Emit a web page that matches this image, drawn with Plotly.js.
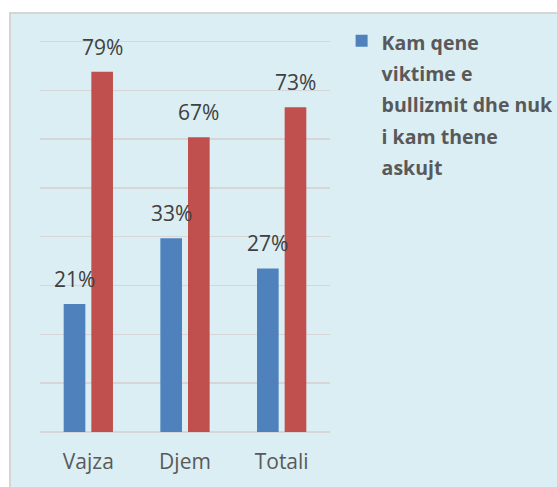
<!DOCTYPE html>
<html>
<head>
<meta charset="utf-8">
<script src="https://cdn.plot.ly/plotly-3.0.1.min.js"></script>
<style>
  html, body { margin: 0; padding: 0; background: #ffffff; width: 557px; height: 487px; overflow: hidden; }
  #wrap { position: absolute; left: 9px; top: 12px; width: 548px; height: 475px;
          background: #DBEEF4; border-left: 2px solid #d5d5d5; border-top: 2px solid #d5d5d5; box-sizing: border-box; }
  #chart { position: absolute; left: 0; top: 0; width: 546px; height: 473px; }
</style>
</head>
<body>
<div id="wrap"><div id="chart"></div></div>
<script>
// Data
const categories = ['Vajza', 'Djem', 'Totali'];
const blueValues = [0.262, 0.397, 0.335];   // bar heights as drawn
const redValues  = [0.738, 0.604, 0.665];   // bar heights as drawn
const blueLabels = ['21%', '33%', '27%'];   // printed data labels
const redLabels  = ['79%', '67%', '73%'];   // printed data labels
const legendLines = ['Kam qene', 'viktime e', 'bullizmit dhe nuk', 'i kam thene', 'askujt'];

const FONT = '"Open Sans", "Noto Sans", sans-serif';
const BLUE = '#4F81BD';
const RED = '#C0504D';

const legendName = legendLines
  .map(l => '<span style="font-size:19.5px"><b>' + l + '</b></span>')
  .join('<br>');

const traces = [
  { type: 'bar', x: categories, y: blueValues, name: legendName,
    marker: { color: BLUE }, hoverinfo: 'none', showlegend: true },
  { type: 'bar', x: categories, y: redValues, name: 'series2',
    marker: { color: RED }, hoverinfo: 'none', showlegend: false }
];

const SHIFT = 13.85;
const annotations = [];
categories.forEach((c, i) => {
  annotations.push({ x: c, y: blueValues[i], xref: 'x', yref: 'y', text: blueLabels[i],
    showarrow: false, xshift: -SHIFT, yshift: 25, font: { family: FONT, size: 21, color: '#404040' } });
  annotations.push({ x: c, y: redValues[i], xref: 'x', yref: 'y', text: redLabels[i],
    showarrow: false, xshift: SHIFT, yshift: 25, font: { family: FONT, size: 21, color: '#404040' } });
});

const layout = {
  width: 546, height: 473,
  margin: { l: 29, r: 226.7, t: 25.3, b: 55.3, pad: 0, autoexpand: false },
  paper_bgcolor: 'rgba(0,0,0,0)',
  plot_bgcolor: 'rgba(0,0,0,0)',
  font: { family: FONT, color: '#595959' },
  barmode: 'group',
  bargap: 0.428,
  bargroupgap: 0.217,
  xaxis: { type: 'category', showgrid: false, zeroline: false, showline: false, ticks: '',
    ticklabelstandoff: 15, automargin: false,
    tickfont: { family: FONT, size: 21, color: '#595959' }, fixedrange: true },
  yaxis: { range: [0, 0.805], dtick: 0.1, tick0: 0, showticklabels: false, ticks: '',
    showgrid: true, gridcolor: '#d6d6d6', gridwidth: 1.5, automargin: false,
    zeroline: true, zerolinecolor: '#d6d6d6', zerolinewidth: 1.5, showline: false, fixedrange: true },
  showlegend: true,
  legend: { x: 1.040, xanchor: 'left', y: 1.052, yanchor: 'top', valign: 'top',
    bgcolor: 'rgba(0,0,0,0)', borderwidth: 0,
    font: { family: FONT, size: 24, color: '#595959' } },
  annotations: annotations
};

Plotly.newPlot('chart', traces, layout, { displayModeBar: false, staticPlot: true });
</script>
</body>
</html>
